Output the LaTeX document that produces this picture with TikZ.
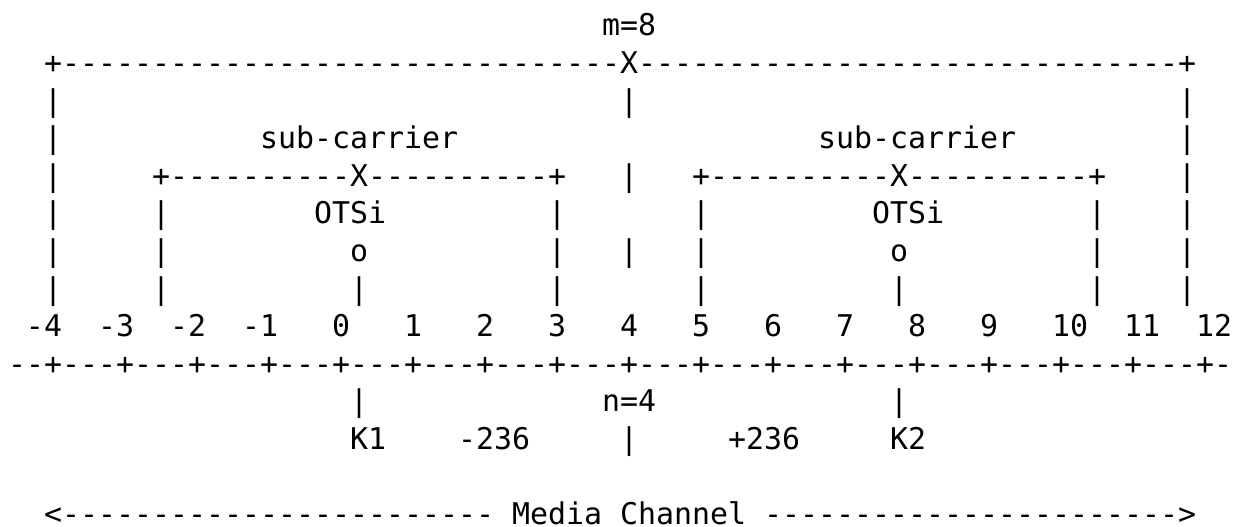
\documentclass[tikz,border=0pt]{standalone}
\usepackage{fontspec}
\newfontfamily\asciifont{DejaVu Sans Mono}
\ExplSyntaxOn
\newcommand\hy[1]{\prg_replicate:nn{#1}{-}}
\newcommand\ticks[1]{\prg_replicate:nn{#1}{---+}}
\ExplSyntaxOff
% one monospaced cell is 13.5pt wide, one text row is 28.2pt high
\newcommand\gl[4]{\node[ch] (#1) at ({6pt+13.5pt*(#2)},{-27pt-28.2pt*(#3)}) {#4};}
\begin{document}
\begin{tikzpicture}[
  ch/.style={anchor=base west,inner sep=0pt,outer sep=0pt,
             font=\asciifont\fontsize{22.43}{28.2}\selectfont}]
\path[use as bounding box] (0pt,0pt) rectangle (924.75pt,-395.25pt);
% media channel frame
\gl{m}{33}{0}{m=8}
\gl{top}{2}{1}{+\hy{31}X\hy{30}+}
\gl{l2}{2}{2}{|}\gl{c2}{34}{2}{|}\gl{r2}{65}{2}{|}
\gl{l3}{2}{3}{|}\gl{scA}{14}{3}{sub-carrier}\gl{scB}{45}{3}{sub-carrier}\gl{r3}{65}{3}{|}
% sub-carrier frames
\gl{l4}{2}{4}{|}
\gl{boxA}{8}{4}{+\hy{10}X\hy{10}+}
\gl{c4}{34}{4}{|}
\gl{boxB}{38}{4}{+\hy{10}X\hy{10}+}
\gl{r4}{65}{4}{|}
\gl{l5}{2}{5}{|}\gl{al5}{8}{5}{|}\gl{otsiA}{17}{5}{OTSi}\gl{ar5}{30}{5}{|}
\gl{bl5}{38}{5}{|}\gl{otsiB}{48}{5}{OTSi}\gl{br5}{60}{5}{|}\gl{r5}{65}{5}{|}
\gl{l6}{2}{6}{|}\gl{al6}{8}{6}{|}\gl{oA}{19}{6}{o}\gl{ar6}{30}{6}{|}\gl{c6}{34}{6}{|}
\gl{bl6}{38}{6}{|}\gl{oB}{49}{6}{o}\gl{br6}{60}{6}{|}\gl{r6}{65}{6}{|}
\gl{l7}{2}{7}{|}\gl{al7}{8}{7}{|}\gl{sA}{19}{7}{|}\gl{ar7}{30}{7}{|}
\gl{bl7}{38}{7}{|}\gl{sB}{49}{7}{|}\gl{br7}{60}{7}{|}\gl{r7}{65}{7}{|}
% frequency grid
\gl{nm4}{1}{8}{-4}\gl{nm3}{5}{8}{-3}\gl{nm2}{9}{8}{-2}\gl{nm1}{13}{8}{-1}
\gl{n0}{18}{8}{0}\gl{n1}{22}{8}{1}\gl{n2}{26}{8}{2}\gl{n3}{30}{8}{3}
\gl{n4}{34}{8}{4}\gl{n5}{38}{8}{5}\gl{n6}{42}{8}{6}\gl{n7}{46}{8}{7}
\gl{n8}{50}{8}{8}\gl{n9}{54}{8}{9}\gl{n10}{58}{8}{10}\gl{n11}{62}{8}{11}
\gl{n12}{66}{8}{12}
\gl{ruler}{0}{9}{--+\ticks{16}-}
% central frequencies
\gl{kA}{19}{10}{|}\gl{nlab}{33}{10}{n=4}\gl{kB}{49}{10}{|}
\gl{K1}{19}{11}{K1}\gl{offA}{25}{11}{-236}\gl{c11}{34}{11}{|}
\gl{offB}{40}{11}{+236}\gl{K2}{49}{11}{K2}
% media channel span
\gl{arrL}{2}{13}{<\hy{24}}
\gl{mc}{28}{13}{Media Channel}
\gl{arrR}{42}{13}{\hy{23}>}
\end{tikzpicture}
\end{document}
